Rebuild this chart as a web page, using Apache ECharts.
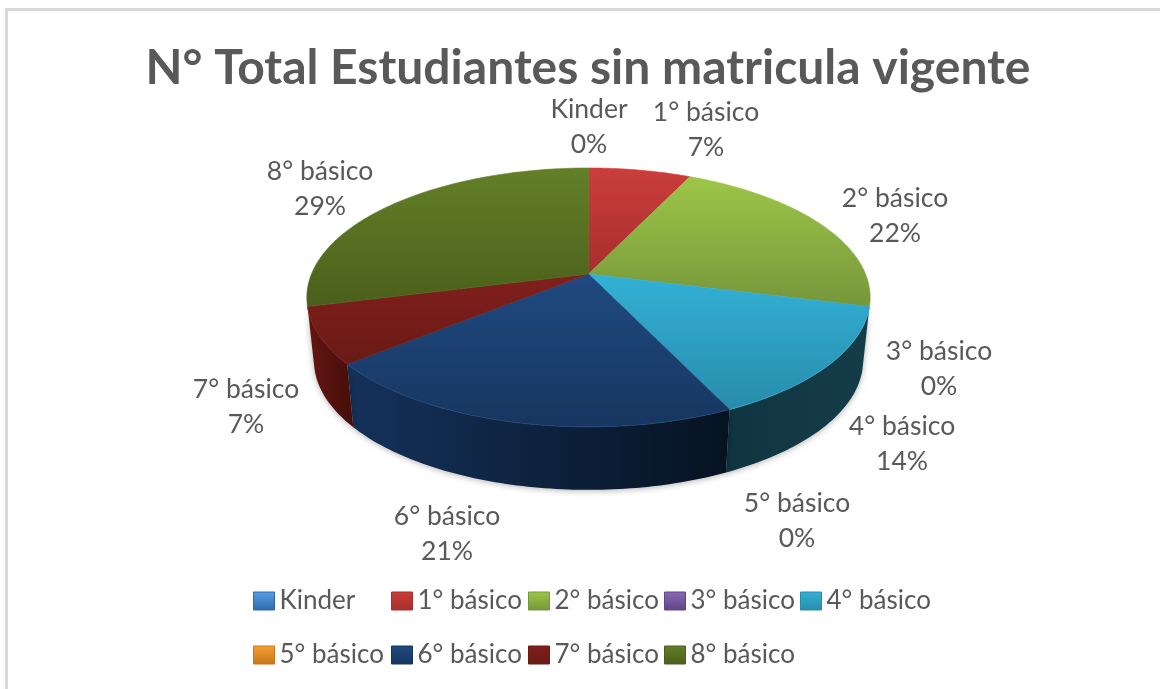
<!DOCTYPE html>
<html>
<head>
<meta charset="utf-8">
<style>
  html, body { margin: 0; height: 100%; background: #fff; }
  #chart { width: 1160px; height: 689px; }
</style>
<script src="https://cdn.jsdelivr.net/npm/echarts@6/dist/echarts.min.js"></script>
</head>
<body>
<div id="chart"></div>
<script>
  const categories = ['Kinder', '1° básico', '2° básico', '3° básico', '4° básico', '5° básico', '6° básico', '7° básico', '8° básico'];
  const values = [0, 7, 22, 0, 14, 0, 21, 7, 29];

  // top colour (light, dark), wall colour (left, right)
  const topColors = [
    ['#5a9ee6', '#2f6aa8'], ['#cb3d3b', '#a62f2d'], ['#9dc648', '#76963a'],
    ['#8a68b8', '#5f4585'], ['#33b1d6', '#288cab'], ['#f5a030', '#c9761c'],
    ['#1f4a80', '#173660'], ['#811f1c', '#691a16'], ['#637f28', '#4a5f1a']
  ];
  const wallColors = [
    ['#1f4468', '#1f4468'], ['#5a1512', '#5a1512'], ['#4a5f1a', '#4a5f1a'],
    ['#3a2a52', '#3a2a52'], ['#0f3540', '#153d49'], ['#7a4510', '#7a4510'],
    ['#15315a', '#061322'], ['#651611', '#450e0b'], ['#33440f', '#33440f']
  ];
  // label centres, the labels are placed by hand like the original best-fit
  const labelPos = [[589, 127], [706, 130], [895, 216], [939, 369], [902, 444], [797, 521], [447, 534], [246, 407], [320, 189]];
  const legendColumns = [
    { left: 253, names: ['Kinder', '5° básico'] },
    { left: 391, names: ['1° básico', '6° básico'] },
    { left: 528, names: ['2° básico', '7° básico'] },
    { left: 664, names: ['3° básico', '8° básico'] },
    { left: 800, names: ['4° básico'] }
  ];

  const fontFamily = 'Lato';
  const textColor = '#595959';
  const total = values.reduce((a, b) => a + b, 0);

  // tilted pie with perspective, apex is not in the middle of the ellipse
  const pie = { x: 588.5, y: 274, a: 277, b: 125.2, k: -0.181, depth: 63, shrink: 0.975, minW: 0.215 };

  function rim(deg) {
    const t = deg * Math.PI / 180;
    const u = Math.sin(t);
    const w = -Math.cos(t);
    const d = 1 + pie.k * w;
    return [pie.x + pie.a * u / d, pie.y + pie.b * w / d];
  }

  function arc(from, to) {
    const pts = [];
    const n = Math.max(1, Math.ceil(to - from));
    for (let i = 0; i <= n; i++) {
      pts.push(rim(from + (to - from) * i / n));
    }
    return pts;
  }

  function vGrad(c) {
    return new echarts.graphic.LinearGradient(0, 0, 0, 1, [{ offset: 0, color: c[0] }, { offset: 1, color: c[1] }]);
  }
  function hGrad(c) {
    return new echarts.graphic.LinearGradient(0, 0, 1, 0, [{ offset: 0, color: c[0] }, { offset: 1, color: c[1] }]);
  }

  function renderSlice(idx) {
    return function (params, api) {
      const from = api.value(0) / total * 360;
      const to = api.value(1) / total * 360;
      const children = [];
      if (to > from) {
        children.push({
          type: 'polygon',
          z2: 3,
          shape: { points: [[pie.x, pie.y]].concat(arc(from, to)) },
          style: { fill: vGrad(topColors[idx]), stroke: vGrad(topColors[idx]), lineWidth: 0.6 }
        });
        // only the front part of the rim has a wall
        const wallPts = arc(from, to).filter(p => {
          const w = (p[1] - pie.y) / (pie.b - pie.k * (p[1] - pie.y));
          return w >= pie.minW;
        });
        if (wallPts.length > 1) {
          const lower = wallPts.map(p => [pie.x + (p[0] - pie.x) * pie.shrink, p[1] + pie.depth]);
          children.push({
            type: 'polygon',
            z2: 1,
            shape: { points: wallPts.concat(lower.slice().reverse()) },
            style: { fill: hGrad(wallColors[idx]), shadowBlur: 6, shadowColor: 'rgba(0,0,0,0.3)', shadowOffsetY: 1 }
          });
          children.push({
            type: 'polyline',
            z2: 4,
            shape: { points: wallPts },
            style: { fill: null, stroke: topColors[idx][0], lineWidth: 1, opacity: 0.6 }
          });
        }
      }
      children.push({
        type: 'text',
        z2: 5,
        style: {
          text: categories[idx] + '\n' + Math.round(values[idx] / total * 100) + '%',
          x: labelPos[idx][0],
          y: labelPos[idx][1],
          fill: textColor,
          font: '26.5px ' + fontFamily,
          lineHeight: 35,
          align: 'center',
          verticalAlign: 'middle'
        }
      });
      return { type: 'group', children: children };
    };
  }

  let sum = 0;
  const seriesList = categories.map((name, i) => {
    const start = sum;
    sum += values[i];
    return {
      type: 'custom',
      name: name,
      coordinateSystem: 'none',
      silent: true,
      animation: false,
      data: [[start, sum]],
      renderItem: renderSlice(i)
    };
  });

  const legends = legendColumns.map(col => ({
    orient: 'vertical',
    left: col.left,
    top: 588,
    padding: 0,
    itemWidth: 21,
    itemHeight: 18,
    itemGap: 28,
    selectedMode: false,
    icon: 'rect',
    textStyle: { fontFamily: fontFamily, fontSize: 26, color: textColor },
    data: col.names.map(n => ({
      name: n,
      itemStyle: { color: vGrad(topColors[categories.indexOf(n)]), borderColor: topColors[categories.indexOf(n)][1], borderWidth: 1 }
    }))
  }));

  const mChart = echarts.init(document.getElementById('chart'), null, { renderer: 'canvas' });
  mChart.setOption({
    animation: false,
    backgroundColor: '#fff',
    title: {
      text: 'N° Total Estudiantes sin matricula vigente',
      left: 583,
      top: 64,
      textAlign: 'center',
      textVerticalAlign: 'middle',
      textStyle: { fontFamily: fontFamily, fontSize: 48, fontWeight: 'bold', color: textColor }
    },
    graphic: [{
      type: 'rect',
      silent: true,
      shape: { x: 6.5, y: 9.5, width: 1170, height: 700 },
      style: { fill: null, stroke: '#d9d9d9', lineWidth: 3 }
    }],
    legend: legends,
    series: seriesList
  });
</script>
</body>
</html>
